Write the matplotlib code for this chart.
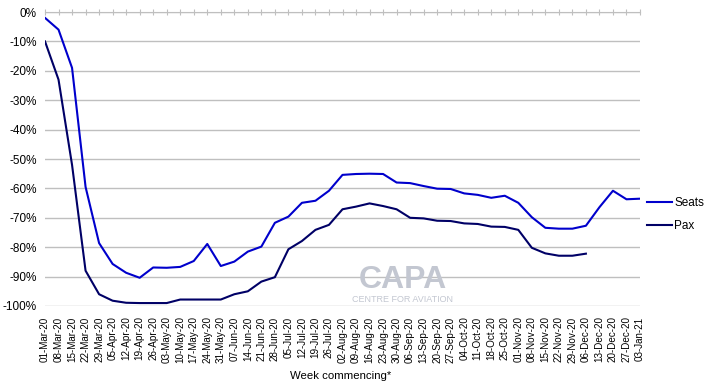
import numpy as np
import pandas as pd
import matplotlib
matplotlib.use('Agg')
import matplotlib.pyplot as plt

plt.rcParams['font.family'] = ['Liberation Sans', 'DejaVu Sans']

# Weekly dates, 01-Mar-20 .. 03-Jan-21
weeks = pd.date_range('2020-03-01', '2021-01-03', freq='7D')
week_labels = [d.strftime('%d-%b-%y') for d in weeks]

# % change vs prior year
seats = [-2, -6, -19, -59.5, -78.6, -85.7, -88.7, -90.4, -86.9, -87, -86.7, -84.7,
         -78.9, -86.4, -84.9, -81.5, -79.8, -71.7, -69.6, -64.9, -64.2, -60.8,
         -55.4, -55.1, -55, -55.1, -58, -58.2, -59.2, -60.1, -60.2, -61.7, -62.2,
         -63.2, -62.5, -64.9, -69.8, -73.4, -73.7, -73.7, -72.7, -66.4, -60.8,
         -63.7, -63.5]
pax = [-10, -23, -52, -88, -96, -98.2, -98.9, -99, -99, -99, -97.8, -97.8,
       -97.8, -97.8, -96, -95, -91.7, -90.2, -80.7, -77.9, -74.1, -72.4, -67.1,
       -66.2, -65.1, -66, -67.1, -70, -70.2, -71, -71.1, -71.9, -72.1, -73,
       -73.1, -74.1, -80.2, -82.1, -82.9, -82.9, -82.2]

seats_col = '#0000CC'
pax_col = '#000066'

fig = plt.figure(figsize=(7.07, 3.91), dpi=100)
ax = fig.add_axes([45/707, 1-306/391, 595/707, 294/391])

x = np.arange(len(week_labels))
ax.plot(x[:len(seats)], seats, color=seats_col, lw=1.5, label='Seats')
ax.plot(x[:len(pax)], pax, color=pax_col, lw=1.5, label='Pax')

ax.set_xlim(0, len(week_labels) - 1)
ax.set_ylim(-100, 0)
ax.set_yticks(np.arange(-100, 1, 10))
ax.set_yticklabels([f'{v}%' for v in range(-100, 1, 10)], fontsize=8.5)
ax.yaxis.grid(True, color='#BFBFBF', lw=1)
ax.set_axisbelow(True)

ax.set_xticks(x)
ax.set_xticklabels(week_labels, rotation=90, fontsize=7.1)
ax.tick_params(axis='x', top=True, bottom=False, labeltop=False, labelbottom=True,
               direction='inout', length=5, color='#BFBFBF', pad=5)
ax.tick_params(axis='y', length=0, pad=6)

for s in ['left', 'right', 'bottom']:
    ax.spines[s].set_visible(False)
ax.spines['top'].set_color('#BFBFBF')

ax.set_xlabel('Week commencing*', fontsize=8.2)
ax.xaxis.set_label_coords(0.497, -0.222)

# legend at the right
ax.legend(loc='center left', bbox_to_anchor=(1.012, 0.311), frameon=False,
          fontsize=8.5, handlelength=2.1, handletextpad=0.2, labelspacing=0.95,
          borderaxespad=0, borderpad=0)

# CAPA watermark
fig.text(403/707, 1-288/391, 'CAPA', fontsize=23, fontweight='bold', color='#C3C7D1',
         ha='center', va='baseline')
fig.text(403/707, 1-295/391, 'CENTRE FOR AVIATION', fontsize=6.5, color='#C3C7D1',
         ha='center', va='top')

fig.savefig('out.png', dpi=100)
